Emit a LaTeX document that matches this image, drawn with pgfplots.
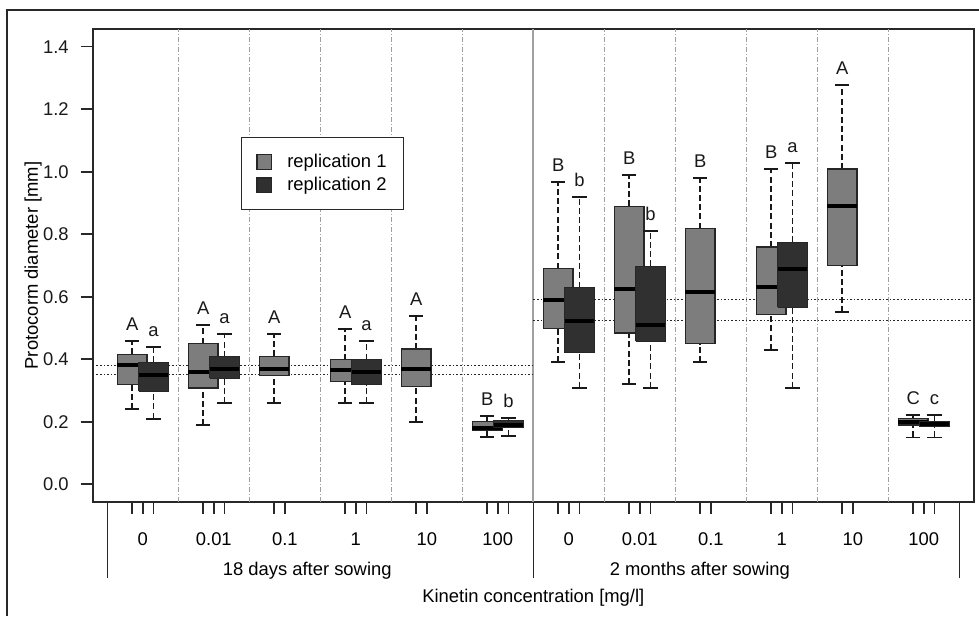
\documentclass[border=0pt]{standalone}
\usepackage{fontspec}
\setmainfont{Liberation Sans}
\usepackage{pgfplots}
\pgfplotsset{compat=1.18}
\definecolor{repA}{RGB}{125,125,125}
\definecolor{repB}{RGB}{48,48,48}
\definecolor{frame}{RGB}{40,40,40}
\definecolor{sepc}{RGB}{160,160,160}
\newcommand{\fs}{\fontsize{9.2}{11}\selectfont}
\pgfplotsset{
 whs/.style={black!90, line width=0.9pt, dash pattern=on 3pt off 1.6pt, forget plot},
 caps/.style={black!90, line width=0.9pt, forget plot},
 bxs/.style={draw=black!85, line width=0.6pt, forget plot},
 meds/.style={black, line width=2pt, forget plot},
 sepst/.style={sepc, line width=0.5pt, dash pattern=on 2.5pt off 1pt on 0.5pt off 1pt, forget plot},
 refst/.style={black!85, line width=0.6pt, dash pattern=on 0.8pt off 1pt, forget plot},
 sqlegend/.style={legend image code/.code={\draw[##1, line width=0.6pt] (0pt,-3.7pt) rectangle (7.4pt,3.7pt);}},
}
% #1 colour, #2 position, #3..#7 lower whisker, lower quartile, median, upper quartile, upper whisker
\newcommand{\bx}[7]{%
 \pgfmathsetmacro\xa{#2-0.21}\pgfmathsetmacro\xb{#2+0.21}%
 \pgfmathsetmacro\ca{#2-0.1}\pgfmathsetmacro\cb{#2+0.1}%
 \addplot[whs] coordinates {(#2,#3) (#2,#4)};
 \addplot[whs] coordinates {(#2,#6) (#2,#7)};
 \addplot[caps] coordinates {(\ca,#3) (\cb,#3)};
 \addplot[caps] coordinates {(\ca,#7) (\cb,#7)};
 \addplot[bxs, fill=#1] coordinates {(\xa,#4) (\xb,#4) (\xb,#6) (\xa,#6) (\xa,#4)};
 \addplot[meds] coordinates {(\xa,#5) (\xb,#5)};
}
\newcommand{\lt}[3]{\node[anchor=base, yshift=5.25pt, text=black!90, inner sep=0pt] at (axis cs:#1,#2) {#3};}
\begin{document}
\begin{tikzpicture}[font=\fs]
\useasboundingbox (0,0) rectangle (489.5pt,308pt);
\draw[frame, line width=0.75pt] (3.5pt,0) -- (3.5pt,303pt) -- (489.5pt,303pt);
\begin{axis}[
 at={(46.35pt,57.15pt)}, anchor=south west,
 width=440.65pt, height=236.1pt, scale only axis,
 xmin=-0.706, xmax=11.707, ymin=-0.0557, ymax=1.455,
 clip=false,
 axis line style={draw=frame, line width=1pt},
 tick align=outside, xtick pos=bottom, ytick pos=left,
 major tick length=6pt,
 tick style={line width=0.8pt, draw=frame},
 ytick={0,0.2,0.4,0.6,0.8,1.0,1.2,1.4},
 yticklabel style={xshift=-2.5pt, /pgf/number format/.cd, fixed, fixed zerofill, precision=1, assume math mode=true},
 every tick label/.append style={font=\fs, text=black!90},
 xtick={-0.15,0,0.15, 0.85,1,1.15, 1.85,2, 2.85,3,3.15, 3.85,4, 4.85,5,5.15, 5.85,6,6.15, 6.85,7,7.15, 7.85,8, 8.85,9,9.15, 9.85,10, 10.85,11,11.15},
 xticklabels={},
 extra x ticks={-0.5,5.5,11.5},
 extra x tick labels={},
 extra x tick style={major tick length=38.3pt, tick style={line width=0.8pt, draw=frame}},
 legend style={at={(0.168,0.772)}, anchor=north west, draw=frame, line width=0.6pt, fill=white, font=\fs,
   inner xsep=7.5pt, inner ysep=6.6pt, row sep=0.5pt, column sep=6.5pt, nodes={inner xsep=1pt, inner ysep=1.5pt}},
 legend cell align=left,
]
% separators
\addplot[sepst] coordinates {(0.5,-0.0557) (0.5,1.455)};
\addplot[sepst] coordinates {(1.5,-0.0557) (1.5,1.455)};
\addplot[sepst] coordinates {(2.5,-0.0557) (2.5,1.455)};
\addplot[sepst] coordinates {(3.5,-0.0557) (3.5,1.455)};
\addplot[sepst] coordinates {(4.5,-0.0557) (4.5,1.455)};
\addplot[sepst] coordinates {(6.5,-0.0557) (6.5,1.455)};
\addplot[sepst] coordinates {(7.5,-0.0557) (7.5,1.455)};
\addplot[sepst] coordinates {(8.5,-0.0557) (8.5,1.455)};
\addplot[sepst] coordinates {(9.5,-0.0557) (9.5,1.455)};
\addplot[sepst] coordinates {(10.5,-0.0557) (10.5,1.455)};
\addplot[sepc, line width=1pt, forget plot] coordinates {(5.5,-0.0557) (5.5,1.455)};
% reference lines
\addplot[refst] coordinates {(-0.706,0.38) (5.5,0.38)};
\addplot[refst] coordinates {(-0.706,0.35) (5.5,0.35)};
\addplot[refst] coordinates {(5.5,0.59) (11.707,0.59)};
\addplot[refst] coordinates {(5.5,0.525) (11.707,0.525)};
% 18 days
\bx{repA}{-0.15}{0.241}{0.318}{0.381}{0.416}{0.459}
\bx{repB}{0.15}{0.21}{0.298}{0.35}{0.39}{0.439}
\bx{repA}{0.85}{0.189}{0.308}{0.36}{0.45}{0.51}
\bx{repB}{1.15}{0.259}{0.339}{0.369}{0.408}{0.48}
\bx{repA}{1.85}{0.259}{0.349}{0.37}{0.41}{0.48}
\bx{repA}{2.85}{0.26}{0.329}{0.367}{0.398}{0.498}
\bx{repB}{3.15}{0.26}{0.319}{0.359}{0.399}{0.458}
\bx{repA}{3.85}{0.199}{0.314}{0.369}{0.433}{0.539}
\bx{repA}{4.85}{0.152}{0.172}{0.18}{0.2}{0.219}
\bx{repB}{5.15}{0.155}{0.182}{0.19}{0.205}{0.212}
% 2 months
\bx{repA}{5.85}{0.39}{0.499}{0.59}{0.69}{0.968}
\bx{repB}{6.15}{0.309}{0.421}{0.523}{0.629}{0.918}
\bx{repA}{6.85}{0.32}{0.484}{0.625}{0.889}{0.989}
\bx{repB}{7.15}{0.309}{0.458}{0.509}{0.698}{0.81}
\bx{repA}{7.85}{0.39}{0.45}{0.614}{0.818}{0.979}
\bx{repA}{8.85}{0.43}{0.542}{0.63}{0.759}{1.009}
\bx{repB}{9.15}{0.309}{0.566}{0.69}{0.774}{1.029}
\bx{repA}{9.85}{0.55}{0.699}{0.889}{1.009}{1.277}
\bx{repA}{10.85}{0.15}{0.19}{0.2}{0.211}{0.222}
\bx{repB}{11.15}{0.15}{0.184}{0.193}{0.2}{0.222}
% legend
\addlegendimage{sqlegend, fill=repA, draw=black!85}
\addlegendentry{replication 1}
\addlegendimage{sqlegend, fill=repB, draw=black!85}
\addlegendentry{replication 2}
% letters
\lt{-0.15}{0.459}{A} \lt{0.15}{0.439}{a}
\lt{0.85}{0.51}{A} \lt{1.15}{0.48}{a}
\lt{1.85}{0.48}{A}
\lt{2.85}{0.498}{A} \lt{3.15}{0.458}{a}
\lt{3.85}{0.539}{A}
\lt{4.85}{0.219}{B} \lt{5.15}{0.212}{b}
\lt{5.85}{0.968}{B} \lt{6.15}{0.918}{b}
\lt{6.85}{0.989}{B} \lt{7.15}{0.81}{b}
\lt{7.85}{0.979}{B}
\lt{8.85}{1.009}{B} \lt{9.15}{1.029}{a}
\lt{9.85}{1.277}{A}
\lt{10.85}{0.222}{C} \lt{11.15}{0.222}{c}
% category labels
\node at (axis cs:0,-0.175) {0};
\node at (axis cs:1,-0.175) {0.01};
\node at (axis cs:2,-0.175) {0.1};
\node at (axis cs:3,-0.175) {1};
\node at (axis cs:4,-0.175) {10};
\node at (axis cs:5,-0.175) {100};
\node at (axis cs:6,-0.175) {0};
\node at (axis cs:7,-0.175) {0.01};
\node at (axis cs:8,-0.175) {0.1};
\node at (axis cs:9,-0.175) {1};
\node at (axis cs:10,-0.175) {10};
\node at (axis cs:11,-0.175) {100};
\node at (axis description cs:0.2434,-0.146) {18 days after sowing};
\node at (axis description cs:0.6889,-0.146) {2 months after sowing};
\node at (axis description cs:0.5,-0.2033) {Kinetin concentration [mg/l]};
\node[rotate=90] at (axis description cs:-0.0677,0.5) {Protocorm diameter [mm]};
\end{axis}
\end{tikzpicture}
\end{document}
